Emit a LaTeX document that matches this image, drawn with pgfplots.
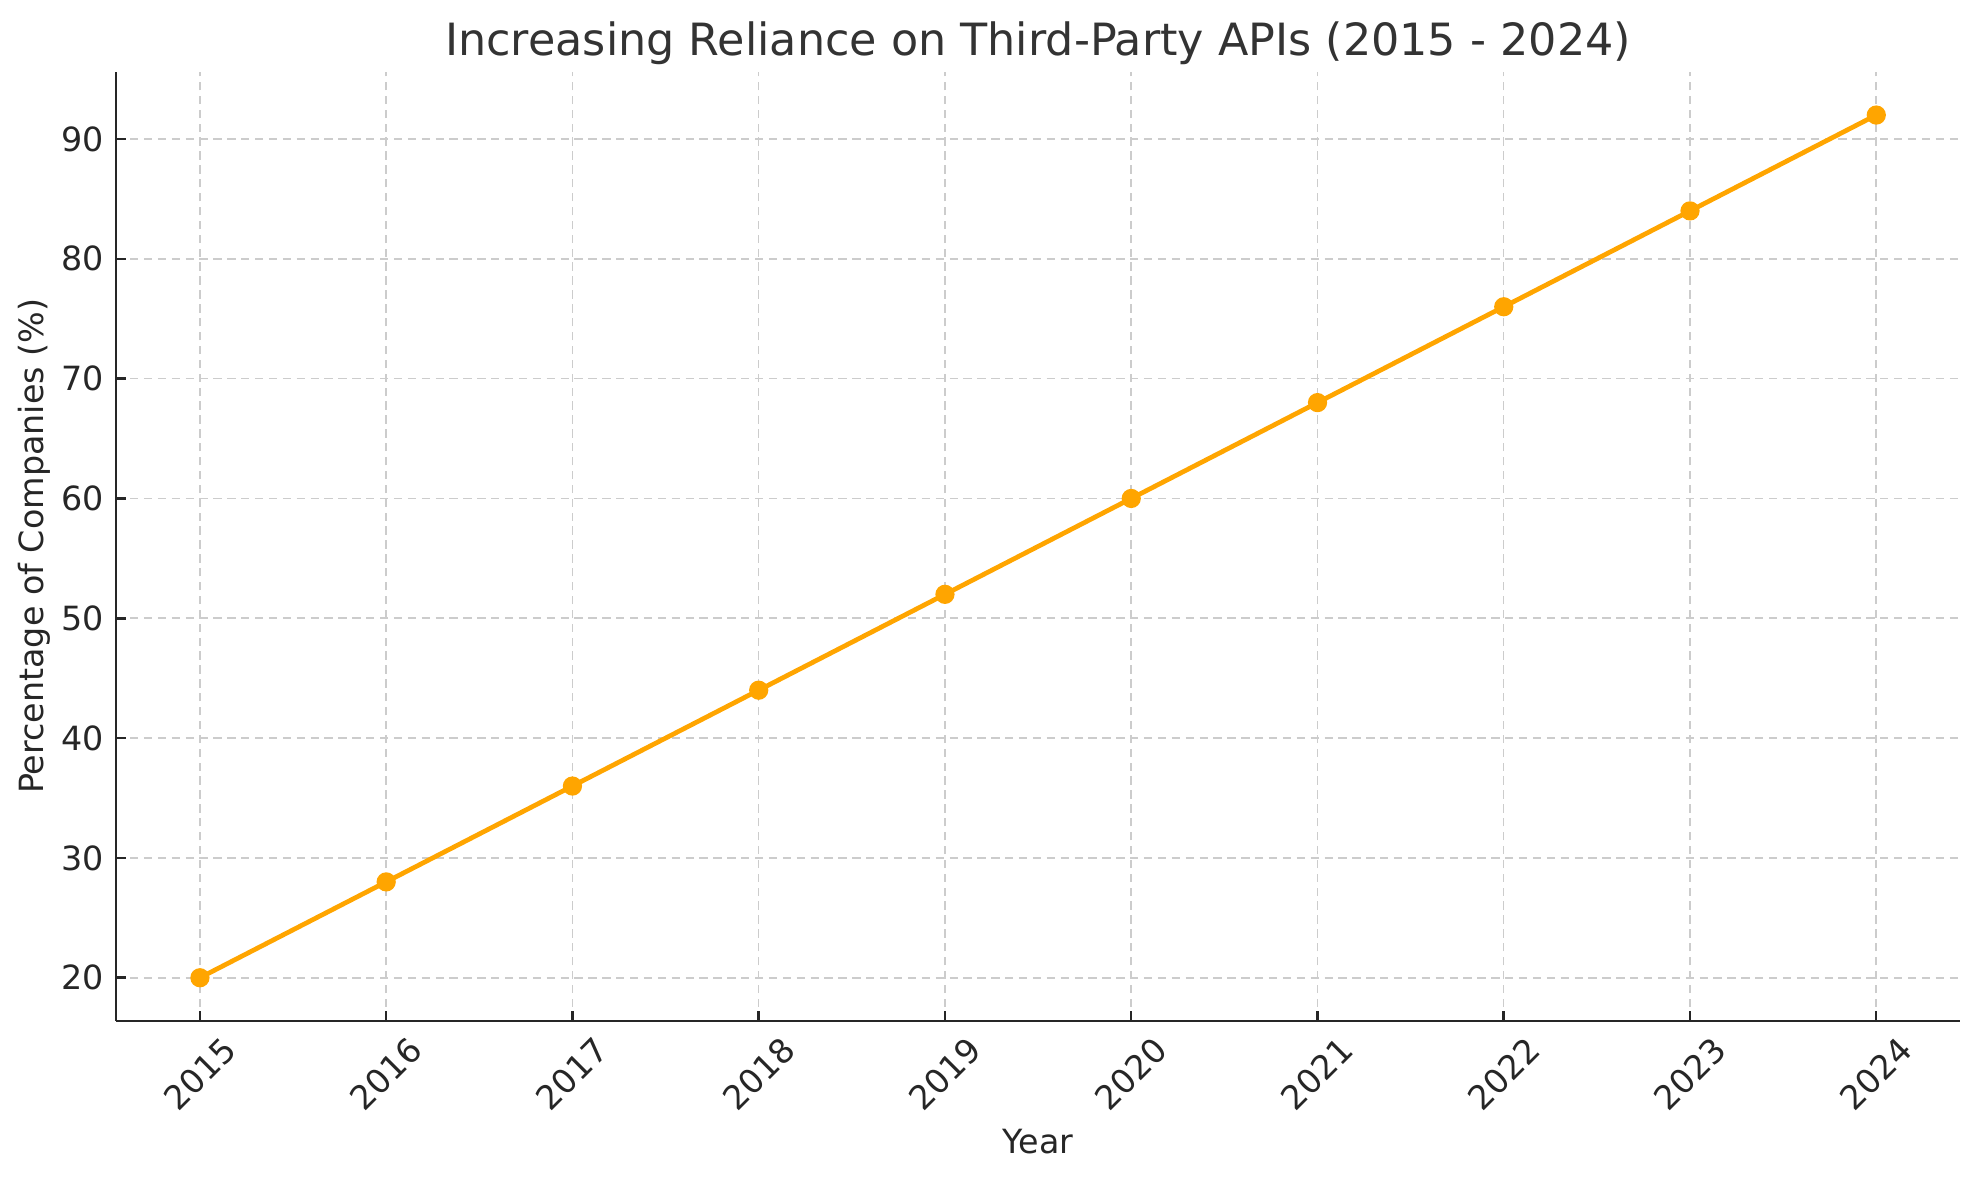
\documentclass[border=0pt]{standalone}
\usepackage{pgfplots}
\pgfplotsset{compat=1.18}
\usepackage{fontspec}
\setmainfont{DejaVu Sans}
\definecolor{lineorange}{HTML}{FFA500}
\definecolor{txt}{HTML}{333333}
\definecolor{gridc}{HTML}{CCCCCC}
\definecolor{spine}{HTML}{262626}
\begin{document}
\begin{tikzpicture}
\begin{axis}[
  at={(0,0)}, anchor=south west,
  scale only axis,
  width=663.8pt, height=341.6pt,
  xmin=2014.55, xmax=2024.45,
  ymin=16.4, ymax=95.6,
  xtick={2015,...,2024},
  ytick={20,30,...,90},
  axis lines*=left,
  axis line style={spine, line width=0.9pt},
  tick align=inside,
  major tick length=3.5pt,
  tick style={spine, line width=0.9pt},
  grid=major,
  major grid style={gridc, line width=0.6pt, dash pattern=on 3pt off 2pt},
  /pgf/number format/assume math mode=true,
  /pgf/number format/1000 sep={},
  ticklabel style={font=\fontsize{12}{14}\selectfont, text=spine},
  x tick label style={yshift=-19pt, rotate=45, anchor=center},
  y tick label style={anchor=east, xshift=-1pt},
  xlabel={Year},
  ylabel={Percentage of Companies (\%)},
  every axis x label/.style={at={(axis description cs:0.5,0)}, yshift=-43.6pt, anchor=center, font=\fontsize{12}{14}\selectfont, text=spine},
  every axis y label/.style={at={(axis description cs:0,0.5)}, xshift=-29.5pt, rotate=90, anchor=center, font=\fontsize{12}{14}\selectfont, text=spine},
  title={Increasing Reliance on Third-Party APIs (2015 - 2024)},
  title style={font=\fontsize{16}{19}\selectfont, text=txt, at={(axis description cs:0.5,1)}, anchor=base, yshift=-0.1pt},
  clip=false,
]
\addplot[lineorange, line width=1.7pt, mark=*, mark size=2.6pt, mark options={fill=lineorange, draw=lineorange}]
coordinates {(2015,20) (2016,28) (2017,36) (2018,44) (2019,52) (2020,60) (2021,68) (2022,76) (2023,84) (2024,92)};
\end{axis}
\pgfresetboundingbox
\useasboundingbox (-41.8pt,-57.2pt) rectangle (670.6pt,367.5pt);
\end{tikzpicture}
\end{document}
